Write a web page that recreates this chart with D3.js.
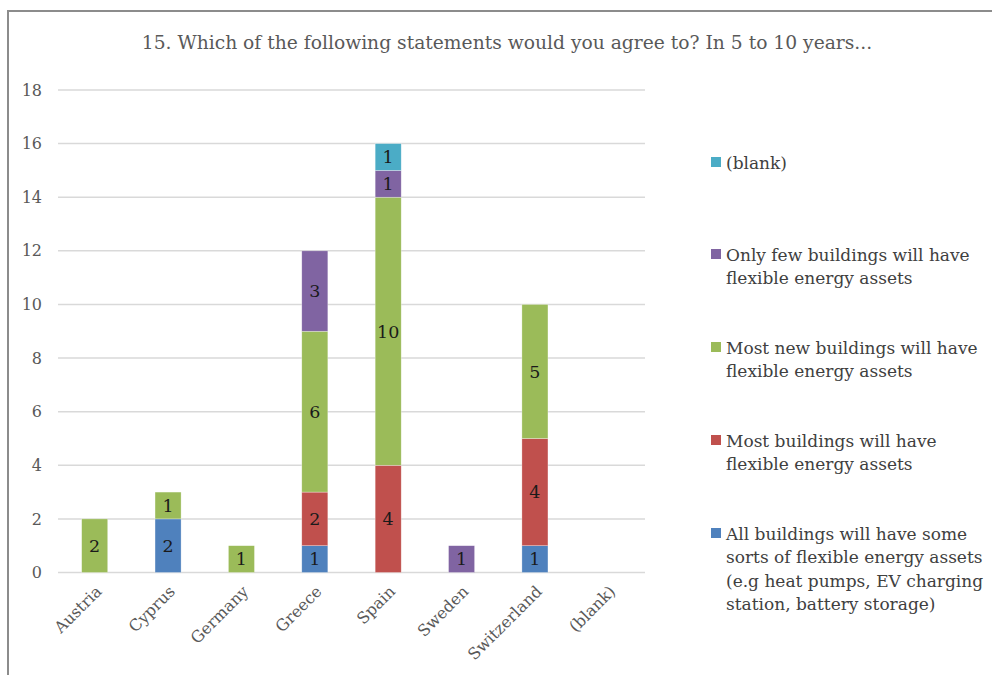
<!DOCTYPE html>
<html>
<head>
<meta charset="utf-8">
<script src="https://cdn.jsdelivr.net/npm/d3@7"></script>
<style>
  html, body { margin: 0; padding: 0; background: #fff; }
  svg { display: block; }
  text { font-family: "DejaVu Serif", "Liberation Serif", serif; }
</style>
</head>
<body>
<svg id="chart" width="992" height="675"></svg>
<script>
// Countries on the x axis
const categories = ["Austria", "Cyprus", "Germany", "Greece", "Spain", "Sweden", "Switzerland", "(blank)"];

// Answer series, stacked bottom to top
const seriesNames = [
  "All buildings will have some sorts of flexible energy assets (e.g heat pumps, EV charging station, battery storage)",
  "Most buildings will have flexible energy assets",
  "Most new buildings will have flexible energy assets",
  "Only few buildings will have flexible energy assets",
  "(blank)"
];
const seriesColors = ["#4F81BD", "#C0504D", "#9BBB59", "#8064A2", "#4BACC6"];

// Counts per country for each series
const allBuildings  = [0, 2, 0, 1, 0, 0, 1, 0];
const mostBuildings = [0, 0, 0, 2, 4, 0, 4, 0];
const mostNew       = [2, 1, 1, 6, 10, 0, 5, 0];
const onlyFew       = [0, 0, 0, 3, 1, 1, 0, 0];
const blankAnswer   = [0, 0, 0, 0, 1, 0, 0, 0];
const seriesValues = [allBuildings, mostBuildings, mostNew, onlyFew, blankAnswer];

// Y axis ticks
const yTicks = [0, 2, 4, 6, 8, 10, 12, 14, 16, 18];

// Legend lines (wrapped), listed top to bottom
const legendLines = [
  ["(blank)"],
  ["Only few buildings will have", "flexible energy assets"],
  ["Most new buildings will have", "flexible energy assets"],
  ["Most buildings will have", "flexible energy assets"],
  ["All buildings will have some", "sorts of flexible energy assets", "(e.g heat pumps, EV charging", "station, battery storage)"]
];
const legendColors = ["#4BACC6", "#8064A2", "#9BBB59", "#C0504D", "#4F81BD"];

const titleText = "15. Which of the following statements would you agree to? In 5 to 10 years...";

const svg = d3.select("#chart");

// Outer frame
svg.append("rect")
  .attr("x", 8).attr("y", 11).attr("width", 1000).attr("height", 700)
  .attr("fill", "none").attr("stroke", "#8c8c8c").attr("stroke-width", 2);

// Title
svg.append("text")
  .attr("x", 507).attr("y", 49)
  .attr("text-anchor", "middle")
  .attr("fill", "#595959")
  .style("font-size", "18.7px")
  .text(titleText);

const plot = { left: 58, right: 645, top: 90, bottom: 572.5 };

const x = d3.scaleBand()
  .domain(categories)
  .range([plot.left, plot.right])
  .paddingInner(0.645)
  .paddingOuter(0.3225);

const y = d3.scaleLinear()
  .domain([0, 18])
  .range([plot.bottom, plot.top]);

// Gridlines
svg.append("g")
  .selectAll("line")
  .data(yTicks)
  .join("line")
  .attr("x1", plot.left).attr("x2", plot.right)
  .attr("y1", d => y(d)).attr("y2", d => y(d))
  .attr("stroke", "#d9d9d9").attr("stroke-width", 1.5);

// Y axis labels
const yAxis = d3.axisLeft(y).tickValues(yTicks).tickSize(0).tickPadding(0);
const yg = svg.append("g").attr("transform", `translate(${plot.left - 16},0)`).call(yAxis);
yg.select(".domain").remove();
yg.selectAll("text")
  .attr("fill", "#595959")
  .style("font-size", "16px")
  .style("font-family", '"DejaVu Serif", serif');

// X axis labels, rotated
const xAxis = d3.axisBottom(x).tickSize(0).tickPadding(0);
const xg = svg.append("g").attr("transform", `translate(0,${plot.bottom})`).call(xAxis);
xg.select(".domain").remove();
xg.selectAll("text")
  .attr("fill", "#595959")
  .style("font-size", "16px")
  .style("font-family", '"DejaVu Serif", serif')
  .attr("text-anchor", "end")
  .attr("dy", null)
  .attr("y", 0)
  .attr("transform", "translate(8,20) rotate(-45)");

// Stacked data
const rows = categories.map((c, i) => {
  const r = { category: c };
  seriesValues.forEach((vals, s) => { r["s" + s] = vals[i]; });
  return r;
});
const keys = seriesValues.map((_, s) => "s" + s);
const stacked = d3.stack().keys(keys)(rows);

const layers = svg.append("g")
  .selectAll("g")
  .data(stacked)
  .join("g")
  .attr("fill", (d, i) => seriesColors[i]);

layers.selectAll("rect")
  .data(d => d.filter(p => p[1] - p[0] > 0))
  .join("rect")
  .attr("x", d => x(d.data.category))
  .attr("width", x.bandwidth())
  .attr("y", d => y(d[1]))
  .attr("height", d => y(d[0]) - y(d[1]))
  .attr("stroke", "#ffffff").attr("stroke-opacity", 0.5).attr("stroke-width", 0.6);

// Value labels centred in each segment
layers.selectAll("text")
  .data(d => d.filter(p => p[1] - p[0] > 0))
  .join("text")
  .attr("x", d => x(d.data.category) + x.bandwidth() / 2)
  .attr("y", d => (y(d[0]) + y(d[1])) / 2)
  .attr("dy", "0.36em")
  .attr("text-anchor", "middle")
  .attr("fill", "#1a1a1a")
  .style("font-size", "17.5px")
  .text(d => d[1] - d[0]);

// Legend
const legend = svg.append("g");
const legendTop = [163, 255, 348, 441, 534];
const lineH = 23.4;
legendLines.forEach((lines, i) => {
  legend.append("rect")
    .attr("x", 711).attr("y", legendTop[i] - 6)
    .attr("width", 10).attr("height", 10)
    .attr("fill", legendColors[i]);
  const t = legend.append("text")
    .attr("fill", "#404040")
    .style("font-size", "17px");
  lines.forEach((ln, k) => {
    t.append("tspan")
      .attr("x", 726)
      .attr("y", legendTop[i] + k * lineH)
      .attr("dy", "0.35em")
      .text(ln);
  });
});
</script>
</body>
</html>
